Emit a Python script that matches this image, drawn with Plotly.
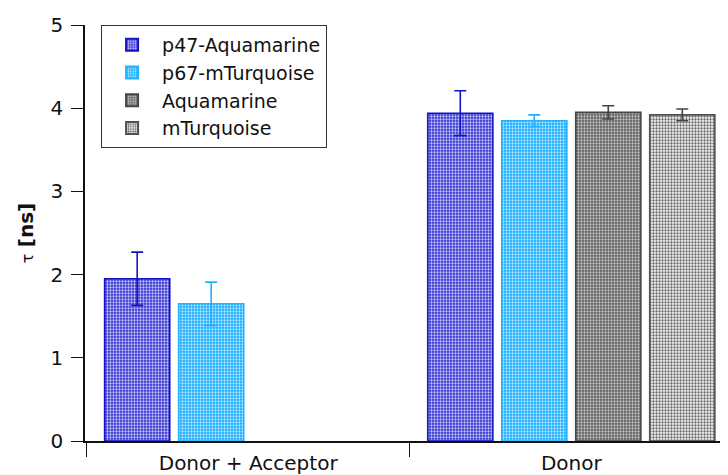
import plotly.graph_objects as go

categories = ["Donor + Acceptor", "Donor"]
series_names = ["p47-Aquamarine", "p67-mTurquoise", "Aquamarine", "mTurquoise"]
values = {
    "p47-Aquamarine": [1.95, 3.94],
    "p67-mTurquoise": [1.65, 3.85],
    "Aquamarine": [None, 3.95],
    "mTurquoise": [None, 3.92],
}
errors = {
    "p47-Aquamarine": [0.32, 0.27],
    "p67-mTurquoise": [0.26, 0.07],
    "Aquamarine": [None, 0.08],
    "mTurquoise": [None, 0.07],
}
y_ticks = [0, 1, 2, 3, 4, 5]

styles = {
    "p47-Aquamarine": dict(bg="#3434d2", fg="#c4c4f6", line="#1414c4", err="#1414c4"),
    "p67-mTurquoise": dict(bg="#10aaff", fg="#b8e6ff", line="#20b4ff", err="#20b0ff"),
    "Aquamarine": dict(bg="#5c5c5c", fg="#c4c4c4", line="#454545", err="#454545"),
    "mTurquoise": dict(bg="#f6f6f6", fg="#666666", line="#505050", err="#454545"),
}

FONT = "DejaVu Sans"
TXT = "#111111"

fig = go.Figure()
for name in series_names:
    s = styles[name]
    fig.add_trace(go.Bar(
        name=name,
        x=categories,
        y=values[name],
        error_y=dict(type="data", array=errors[name], visible=True,
                     color=s["err"], thickness=1.6, width=6),
        marker=dict(
            color=s["bg"],
            line=dict(color=s["line"], width=1.6),
            pattern=dict(shape=".", bgcolor=s["bg"], fgcolor=s["fg"],
                         size=3, solidity=0.45, fillmode="replace"),
        ),
    ))

# page body has an 8px margin, so the figure is sized/offset to compensate
fig.update_layout(
    width=720, height=467,
    margin=dict(l=77, r=0, t=17, b=34),
    paper_bgcolor="white", plot_bgcolor="white",
    barmode="group", bargap=0.084, bargroupgap=0.12,
    font=dict(family=FONT, size=20, color=TXT),
    showlegend=True,
    legend=dict(
        x=0.025, y=1.0, xanchor="left", yanchor="top",
        bordercolor="#333333", borderwidth=1, bgcolor="white",
        font=dict(family=FONT, size=19, color=TXT),
        tracegroupgap=0, itemsizing="constant", itemwidth=50,
    ),
    xaxis=dict(
        type="category", range=[-0.505, 1.485], automargin=False,
        showline=True, linecolor=TXT, linewidth=1.5,
        ticks="outside", tickson="boundaries", ticklen=14, tickcolor=TXT,
        showgrid=False, zeroline=False, ticklabelstandoff=3,
        tickfont=dict(family=FONT, size=20, color=TXT),
    ),
    yaxis=dict(
        range=[0, 5], tickvals=y_ticks, ticktext=[str(t) for t in y_ticks],
        automargin=False,
        showline=True, linecolor=TXT, linewidth=1.5,
        ticks="outside", ticklen=12, tickcolor=TXT,
        showgrid=False, zeroline=False, ticklabelstandoff=4,
        tickfont=dict(family=FONT, size=20, color=TXT),
        title=dict(text="<span style='font-size:16px'>τ</span> <b>[ns]</b>", standoff=12,
                   font=dict(family=FONT, size=20, color=TXT)),
    ),
)

fig.write_html("out.html")
